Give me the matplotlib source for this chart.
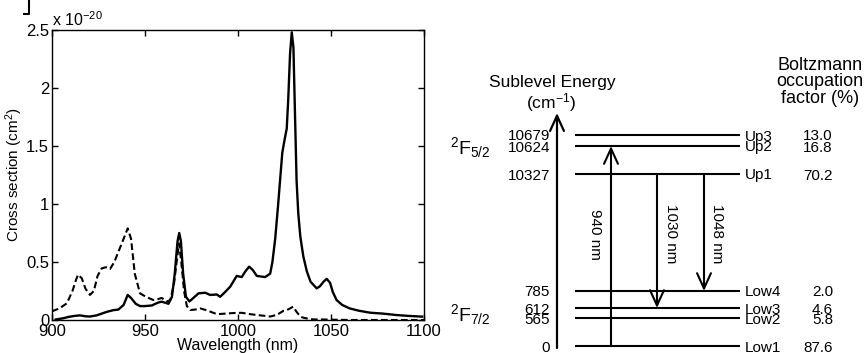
import matplotlib
matplotlib.use("Agg")
import matplotlib.pyplot as plt

plt.rcParams['font.family'] = ['Liberation Sans', 'DejaVu Sans']
plt.rcParams['mathtext.fontset'] = 'custom'
plt.rcParams['mathtext.rm'] = 'Liberation Sans'
plt.rcParams['mathtext.it'] = 'Liberation Sans'

# cross sections in units of 1e-20 cm^2
abs_wl = [900, 904, 908, 911, 913, 914, 916, 918, 920.4, 922.5, 924.5, 926.7, 929, 931.2,
          933.5, 936, 938.5, 940.7, 942.5, 944.5, 947.3, 950.5, 954.5, 957, 959, 961.7,
          963.5, 965.5, 967, 968.3, 969.5, 971, 972.5, 974.3, 977, 979.7, 983, 988.7,
          993, 997.6, 1002, 1006.6, 1012, 1017.4, 1021, 1024.5, 1026.3, 1028, 1029.6,
          1031.5, 1033.5, 1035.1, 1038, 1040.6, 1045, 1050, 1060, 1080, 1100]
abs_cs = [0.075, 0.1, 0.144, 0.25, 0.35, 0.39, 0.36, 0.27, 0.216, 0.25, 0.38, 0.445, 0.455,
          0.44, 0.5, 0.6, 0.7, 0.79, 0.7, 0.4, 0.23, 0.2, 0.172, 0.18, 0.19, 0.16,
          0.17, 0.3, 0.5, 0.66, 0.5, 0.25, 0.12, 0.086, 0.09, 0.1, 0.085, 0.05,
          0.055, 0.06, 0.062, 0.05, 0.04, 0.03, 0.045, 0.08, 0.086, 0.1, 0.115,
          0.07, 0.03, 0.02, 0.01, 0.005, 0.005, 0.003, 0.0, 0.0, 0.0]

em_wl = [902, 906, 909, 912, 915, 918, 920.4, 924, 929.4, 933, 935.7, 938.5, 940.7, 942.5,
         945, 947.3, 950, 953.6, 957, 959, 962.6, 964.5, 966, 967.5, 968.4, 969.3, 970.5,
         972, 973.9, 976, 978.8, 982.4, 985, 988.6, 990.4, 993, 995.8, 999.3, 1002, 1004,
         1006, 1008, 1010.1, 1014.6, 1017.3, 1018.5, 1020, 1021.5, 1022.6, 1023.8, 1025,
         1026.2, 1027, 1028, 1028.9, 1029.8, 1030.6, 1031.5, 1032.4, 1033.5, 1035.1, 1037,
         1039, 1042.3, 1044, 1046, 1047.7, 1049.5, 1051, 1053, 1056, 1060, 1065, 1071,
         1078, 1085, 1092, 1099]
em_cs = [0.004, 0.015, 0.027, 0.035, 0.04, 0.032, 0.03, 0.04, 0.07, 0.085, 0.09, 0.13, 0.216,
         0.19, 0.14, 0.12, 0.12, 0.125, 0.15, 0.158, 0.14, 0.2, 0.4, 0.68, 0.75, 0.68, 0.4,
         0.2, 0.16, 0.19, 0.23, 0.235, 0.216, 0.22, 0.2, 0.24, 0.287, 0.38, 0.37, 0.42,
         0.46, 0.43, 0.38, 0.37, 0.40, 0.5, 0.7, 0.98, 1.2, 1.44, 1.55,
         1.65, 1.9, 2.3, 2.48, 2.35, 1.8, 1.2, 0.92, 0.72, 0.55, 0.42,
         0.33, 0.273, 0.29, 0.33, 0.355, 0.32, 0.24, 0.172, 0.13, 0.1, 0.08, 0.063,
         0.055, 0.043, 0.035, 0.029]

# Yb:YAG Stark sublevels
level_energy = [10679, 10624, 10327, 785, 612, 565, 0]
level_name = ['Up3', 'Up2', 'Up1', 'Low4', 'Low3', 'Low2', 'Low1']
boltzmann = ['13.0', '16.8', '70.2', '2.0', '4.6', '5.8', '87.6']
transitions = [('940 nm', 'Low1', 'Up2'), ('1030 nm', 'Up1', 'Low3'), ('1048 nm', 'Up1', 'Low4')]

W, H = 864, 353
fig = plt.figure(figsize=(W / 100, H / 100), dpi=100)

# ---- cross-section spectrum ----
ax = fig.add_axes([52 / W, 1 - 320 / H, 372 / W, 290 / H])
ax.plot(abs_wl, abs_cs, color='black', lw=1.5, ls=(0, (3.2, 1.6)))
ax.plot(em_wl, em_cs, color='black', lw=1.7)
ax.set_xlim(900, 1100)
ax.set_ylim(0, 2.5)
ax.set_xticks([900, 950, 1000, 1050, 1100])
ax.set_yticks([0, 0.5, 1, 1.5, 2, 2.5])
ax.set_yticklabels(['0', '0.5', '1', '1.5', '2', '2.5'])
ax.tick_params(direction='in', top=True, right=True, length=4, width=1, labelsize=12, pad=2)
ax.tick_params(axis='x', pad=3)
for s in ax.spines.values():
    s.set_linewidth(1.0)
ax.set_xlabel('Wavelength (nm)', fontsize=11.5, labelpad=-1)
ax.set_ylabel('Cross section (cm$^2$)', fontsize=11, labelpad=1)
ax.text(0.0, 1.005, 'x 10$^{-20}$', transform=ax.transAxes, fontsize=11.5, ha='left', va='bottom')

# ---- energy level diagram, drawn in pixel coordinates ----
dx = fig.add_axes([0, 0, 1, 1], zorder=-1)
dx.set_xlim(0, W)
dx.set_ylim(H, 0)
dx.axis('off')

level_y = [135, 146, 174, 291, 308, 318, 346]
ypos = dict(zip(level_name, level_y))
x0, x1 = 575, 740
fs = 11

dx.annotate('', xy=(557, 113), xytext=(557, 348),
            arrowprops=dict(arrowstyle='->,head_length=0.55,head_width=0.25', lw=1.6,
                            color='black', mutation_scale=20, shrinkA=0, shrinkB=0))
dx.text(552, 82, 'Sublevel Energy', fontsize=12.5, ha='center', va='center')
dx.text(551, 103, '(cm$^{-1}$)', fontsize=12.5, ha='center', va='center')
dx.text(820, 82, 'Boltzmann\noccupation\nfactor (%)', fontsize=13, ha='center', va='center',
        linespacing=0.95)

for e, name, f, y in zip(level_energy, level_name, boltzmann, level_y):
    dx.plot([x0, x1], [y, y], color='black', lw=1.5, solid_capstyle='butt')
    dx.text(550, y, str(e), fontsize=fs, ha='right', va='center_baseline')
    dx.text(745, y, name, fontsize=fs, ha='left', va='center_baseline')
    dx.text(833, y, f, fontsize=fs, ha='right', va='center_baseline')

dx.text(450, 148, r'$\mathregular{^2F_{5/2}}$', fontsize=14, ha='left', va='center')
dx.text(450, 315, r'$\mathregular{^2F_{7/2}}$', fontsize=14, ha='left', va='center')

arrow_x = [611, 657, 704]
label_x = [595, 671, 717]
for (lab, a, b), xa, xl in zip(transitions, arrow_x, label_x):
    dx.annotate('', xy=(xa, ypos[b]), xytext=(xa, ypos[a]),
                arrowprops=dict(arrowstyle='->,head_length=0.55,head_width=0.25', lw=1.5,
                                color='black', mutation_scale=20, shrinkA=0, shrinkB=0))
    dx.text(xl, 234, lab, fontsize=11, rotation=-90, ha='center', va='center')

# fragment of a bracket at the top-left corner
dx.plot([29, 29, 24], [0, 14, 14], color='black', lw=1.5)

fig.savefig('out.png', dpi=100)
